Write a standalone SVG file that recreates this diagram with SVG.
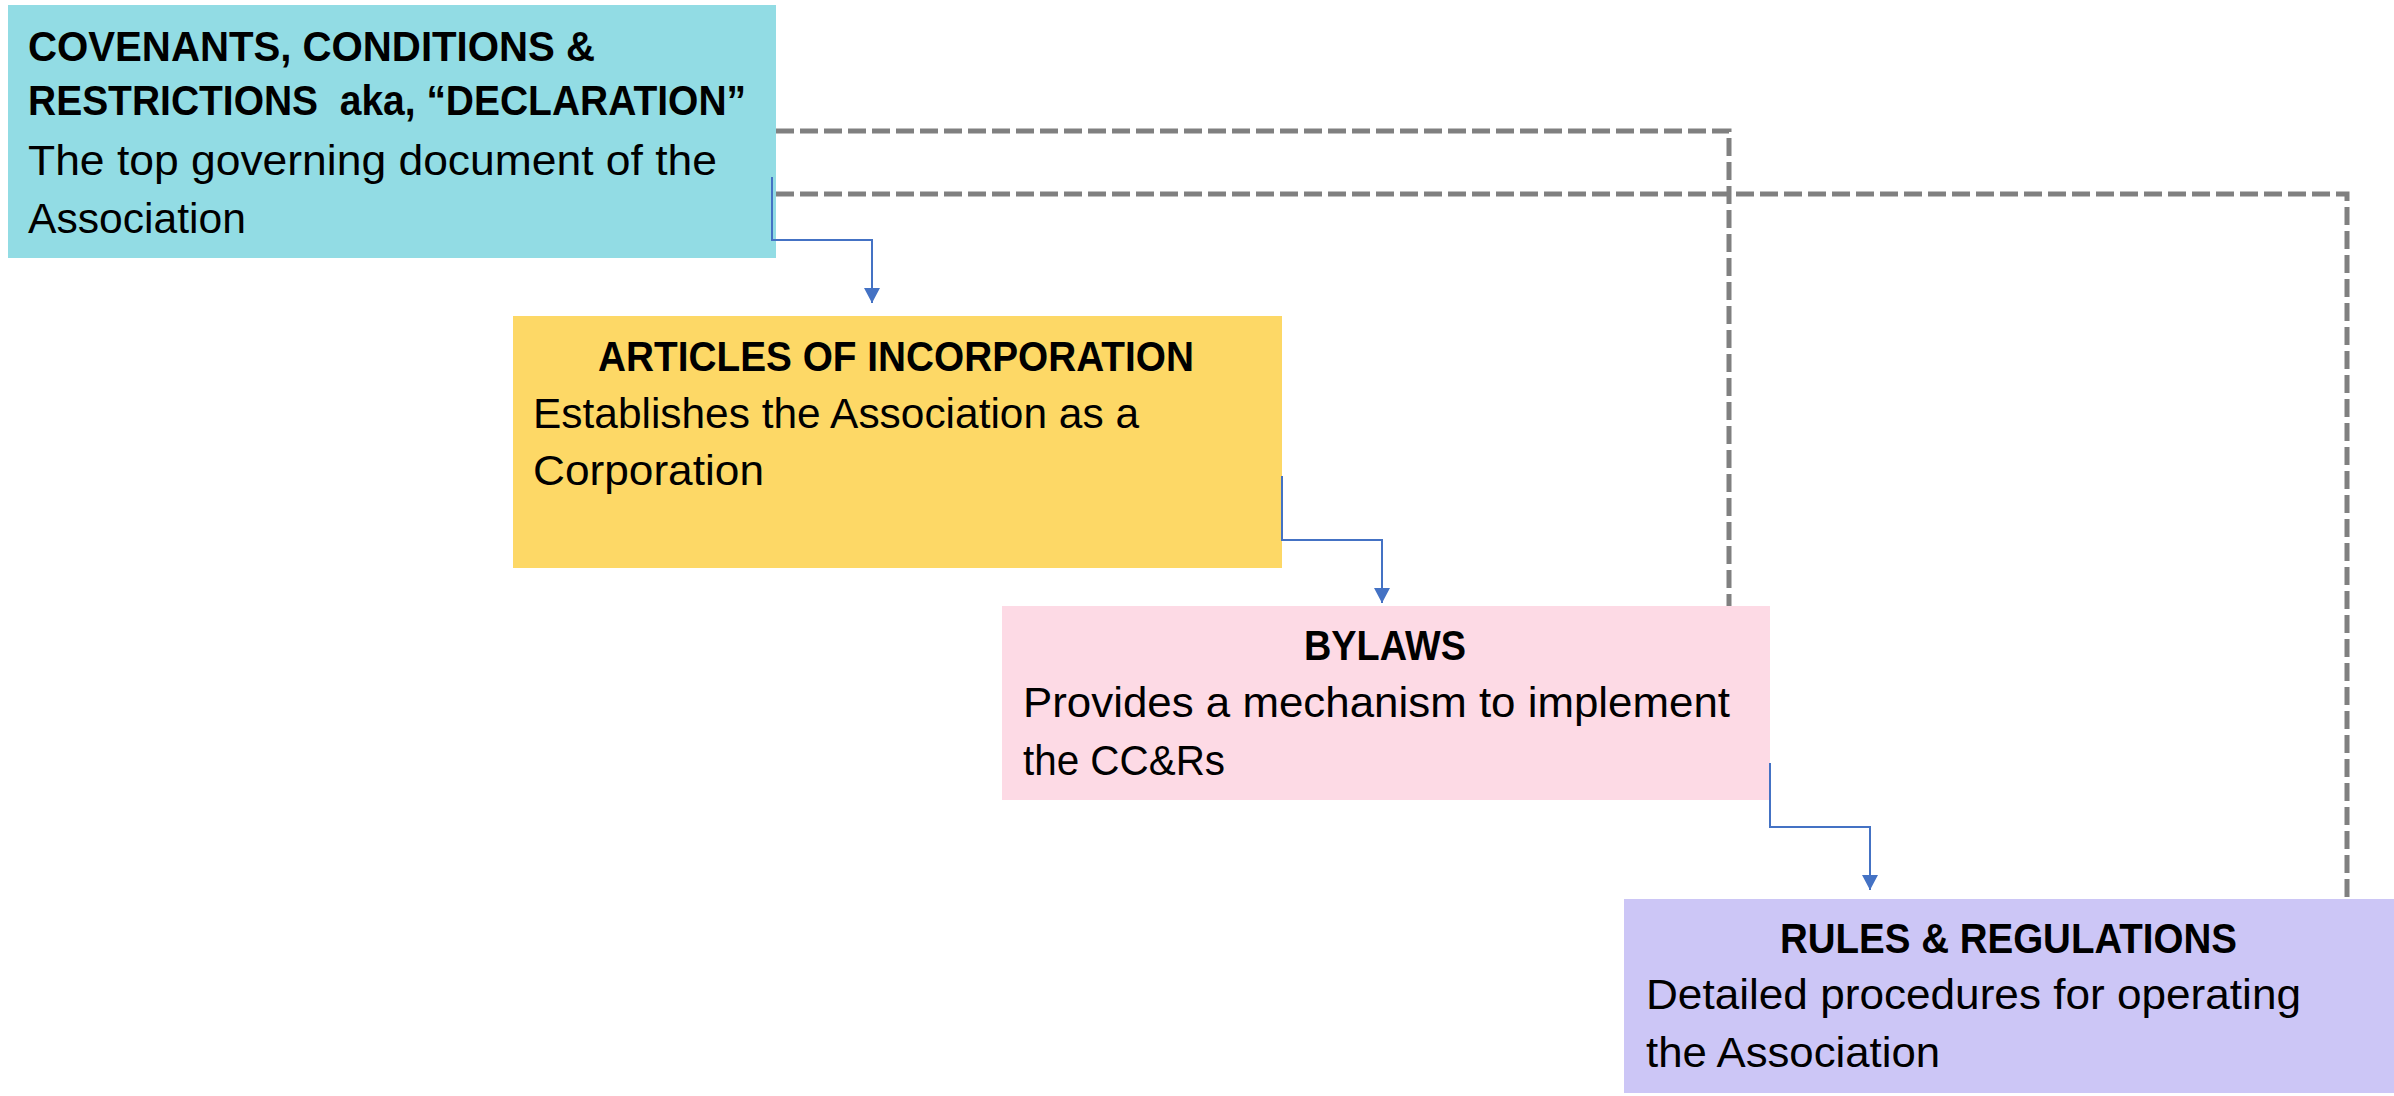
<svg xmlns="http://www.w3.org/2000/svg" width="2394" height="1096" viewBox="0 0 2394 1096">
<style>
.t{font-family:"Liberation Sans",Arial,sans-serif;font-size:42px;fill:#000}
.b{font-weight:bold}
.elbow{fill:none;stroke:#4472C4;stroke-width:2}
.dash{fill:none;stroke:#808080;stroke-width:5;stroke-dasharray:18 6}
</style>
<defs>
<marker id="arr" markerUnits="userSpaceOnUse" markerWidth="16" markerHeight="16" refX="15" refY="8" orient="auto" viewBox="0 0 16 16">
<path d="M0,0 L15,8 L0,16 Z" fill="#4472C4"/>
</marker>
</defs>
<rect width="2394" height="1096" fill="#fff"/>
<g id="node-ccr">
<rect x="8" y="5" width="768" height="253" fill="#92DCE4"/>
<text class="t b" x="28" y="61" textLength="567" lengthAdjust="spacingAndGlyphs">COVENANTS, CONDITIONS &amp;</text>
<text class="t b" x="28" y="115" textLength="718" lengthAdjust="spacingAndGlyphs" xml:space="preserve">RESTRICTIONS  aka, “DECLARATION”</text>
<text class="t" x="28" y="175" textLength="689" lengthAdjust="spacingAndGlyphs">The top governing document of the</text>
<text class="t" x="28" y="233" textLength="218" lengthAdjust="spacingAndGlyphs">Association</text>
</g>
<g id="node-articles">
<rect x="513" y="316" width="769" height="252" fill="#FDD866"/>
<text class="t b" x="598" y="371" textLength="596" lengthAdjust="spacingAndGlyphs">ARTICLES OF INCORPORATION</text>
<text class="t" x="533" y="428" textLength="606" lengthAdjust="spacingAndGlyphs">Establishes the Association as a</text>
<text class="t" x="533" y="485" textLength="231" lengthAdjust="spacingAndGlyphs">Corporation</text>
</g>
<g id="node-bylaws">
<rect x="1002" y="606" width="768" height="194" fill="#FDDAE5"/>
<text class="t b" x="1304" y="660" textLength="162" lengthAdjust="spacingAndGlyphs">BYLAWS</text>
<text class="t" x="1023" y="717" textLength="707" lengthAdjust="spacingAndGlyphs">Provides a mechanism to implement</text>
<text class="t" x="1023" y="775" textLength="202" lengthAdjust="spacingAndGlyphs">the CC&amp;Rs</text>
</g>
<g id="node-rules">
<rect x="1624" y="899" width="770" height="194" fill="#CCC6F6"/>
<text class="t b" x="1780" y="953" textLength="457" lengthAdjust="spacingAndGlyphs">RULES &amp; REGULATIONS</text>
<text class="t" x="1646" y="1009" textLength="655" lengthAdjust="spacingAndGlyphs">Detailed procedures for operating</text>
<text class="t" x="1646" y="1067" textLength="294" lengthAdjust="spacingAndGlyphs">the Association</text>
</g>
<g id="connectors">
<path class="dash" d="M776,131 H1729 V606"/>
<path class="dash" d="M776,194 H2347 V899"/>
<path class="elbow" d="M772,177 V240 H872 V303" marker-end="url(#arr)"/>
<path class="elbow" d="M1282,476 V540 H1382 V603" marker-end="url(#arr)"/>
<path class="elbow" d="M1770,763 V827 H1870 V890" marker-end="url(#arr)"/>
</g>
</svg>
